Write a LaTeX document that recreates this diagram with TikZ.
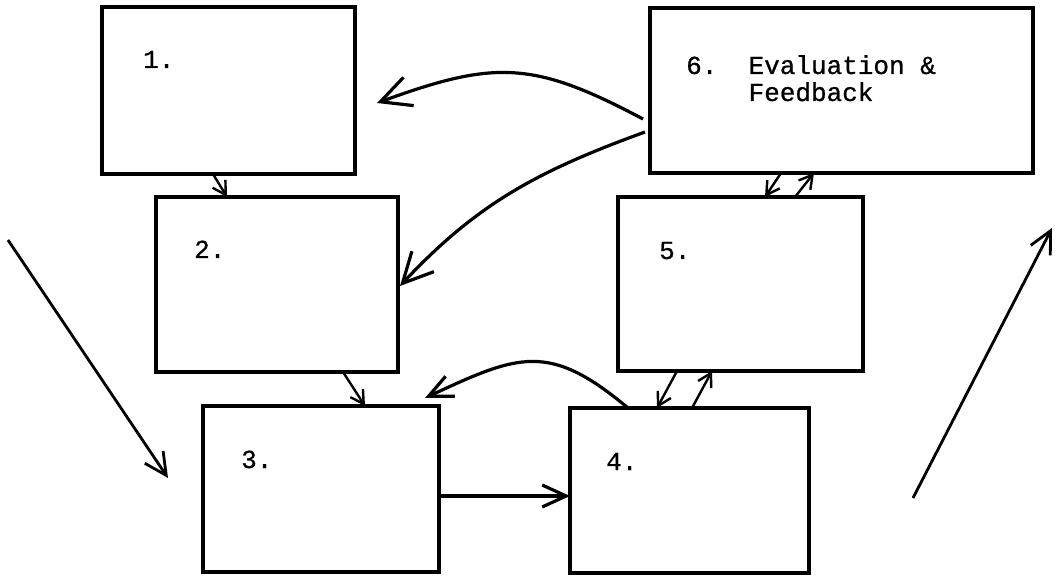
\documentclass[tikz,border=0pt]{standalone}
\usepackage{fontspec}
\setmainfont[FakeBold=0.8]{Liberation Mono}
\usetikzlibrary{arrows.meta,calc}
\begin{document}
\begin{tikzpicture}[x=1pt,y=1pt,
  box/.style={draw,line width=3.2pt,anchor=north west,inner sep=0pt,outer sep=0pt},
  lbl/.style={anchor=base west,inner sep=0pt,font=\fontsize{26}{27}\selectfont},
  bigarr/.style={line width=3.2pt,-{Straight Barb[length=30pt,width=30pt,line width=3.2pt]}},
  medarr/.style={line width=3.2pt,-{Straight Barb[length=24pt,width=22pt,line width=3.2pt]}},
  diagarr/.style={line width=2.8pt,-{Straight Barb[length=22pt,width=22pt,line width=2.8pt]}},
  smallarr/.style={line width=2.4pt,-{Straight Barb[length=13pt,width=15pt,line width=2.4pt]}}
]
\fill[white] (0,0) rectangle (1056,576);
\useasboundingbox (0,0) rectangle (1056,576);

\node[box,minimum width=253pt,minimum height=167pt] (b1) at (102,569) {};
\node[box,minimum width=242pt,minimum height=175pt] (b2) at (156,379) {};
\node[box,minimum width=236pt,minimum height=166pt] (b3) at (203,170) {};
\node[box,minimum width=239pt,minimum height=165pt] (b4) at (570,168) {};
\node[box,minimum width=245pt,minimum height=174pt] (b5) at (618,379) {};
\node[box,minimum width=383pt,minimum height=165pt] (b6) at (650,568) {};

\node[lbl] (l1) at (143,508) {1.};
\node[lbl] (l2) at (194,318) {2.};
\node[lbl] (l3) at (241,108) {3.};
\node[lbl] (l4) at (606,106) {4.};
\node[lbl] (l5) at (659,317) {5.};
\node[lbl] (l6) at (686,502) {6.\ \ Evaluation \&};
\node[lbl] (l6b) at (686,475) {\hphantom{6.\ \ }Feedback};

% straight small arrows
\draw[smallarr] ([xshift=111pt]b1.south west) -- ([xshift=71pt]b2.north west);
\draw[smallarr] ([xshift=187pt]b2.south west) -- ([xshift=162pt]b3.north west);
\draw[smallarr] ([xshift=59pt]b5.south west) -- ([xshift=87pt]b4.north west);
\draw[smallarr] ([xshift=122pt]b4.north west) -- ([xshift=94pt]b5.south west);
\draw[smallarr] ([xshift=131pt]b6.south west) -- ([xshift=147pt]b5.north west);
\draw[smallarr] ([xshift=177pt]b5.north west) -- ([xshift=164pt]b6.south west);

% 3 -> 4
\draw[medarr] ([yshift=-7pt]b3.east) -- ([yshift=-5.5pt]b4.west);

% curved feedback arrows
\draw[medarr] ([xshift=58pt]b4.north west) to[out=140,in=25,looseness=1.3] ([xshift=-14pt,yshift=8pt]b3.north east);
\draw[bigarr] ([xshift=-7pt,yshift=-28.5pt]b6.west) to[out=152,in=20,looseness=1.2] ([xshift=22pt,yshift=-12.5pt]b1.east);
\draw[bigarr] ([xshift=-5pt,yshift=-41.5pt]b6.west) to[out=200,in=47] ([xshift=2pt,yshift=-1.5pt]b2.east);

% side diagonal arrows
\coordinate (dl1) at (8,336);
\coordinate (dl2) at (168,98);
\coordinate (dr1) at (913,78);
\coordinate (dr2) at (1052,348);
\draw[diagarr] (dl1) -- (dl2);
\draw[diagarr] (dr1) -- (dr2);
\end{tikzpicture}
\end{document}
